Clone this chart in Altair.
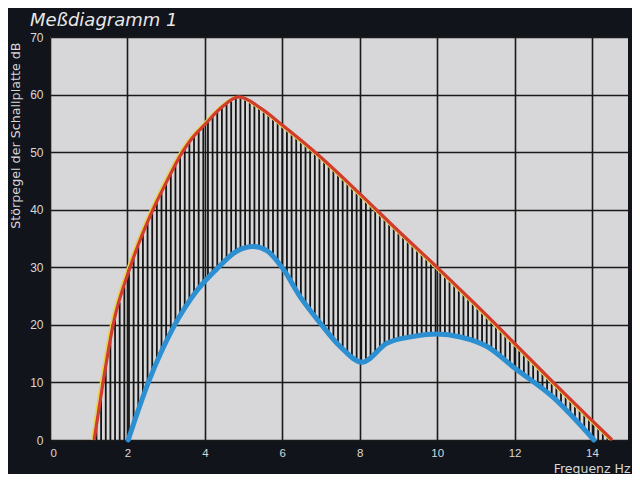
import altair as alt
import numpy as np
import pandas as pd

# Upper (red) curve
red_x = [1.14, 1.37, 1.63, 2.07, 2.66, 3.03, 3.42, 3.68, 4.0, 4.42, 4.88, 5.45, 6.0, 6.93, 8.0, 9.0, 10.0, 11.0, 12.0, 13.0, 14.0, 14.52]
red_y = [0, 10, 20, 30, 40, 45.1, 50, 52.5, 54.8, 57.7, 59.6, 57.6, 54.7, 49.5, 42.8, 36.3, 30.0, 23.5, 16.8, 10.0, 3.4, 0]

# Lower (blue) curve
blue_x = [2.02, 2.54, 3.19, 3.8, 4.35, 4.8, 5.25, 5.6, 6.0, 6.5, 6.98, 7.5, 8.06, 8.7, 9.4, 10.0, 10.6, 11.3, 12.0, 13.0, 14.05]
blue_y = [0, 10, 19.6, 26.0, 30.0, 32.7, 33.6, 32.9, 29.9, 24.5, 20.3, 16.2, 13.5, 16.8, 18.0, 18.4, 17.9, 16.2, 12.5, 7.4, 0]

x_ticks = [0, 2, 4, 6, 8, 10, 12, 14]
y_ticks = [0, 10, 20, 30, 40, 50, 60, 70]

red_df = pd.DataFrame({"f": red_x, "db": red_y})
blue_df = pd.DataFrame({"f": blue_x, "db": blue_y})

# hatching between the two curves
hx = np.arange(1.2, 14.48, 0.12)
hatch_df = pd.DataFrame({
    "f": hx,
    "top": np.interp(hx, red_x, red_y),
    "bot": np.interp(hx, blue_x, blue_y, left=0, right=0),
})

FONT = "Liberation Sans"
WFONT = "DejaVu Sans"
LBL = "#d8d8d8"

xs = alt.Scale(domain=[0, 14.93], nice=False, zero=False)
ys = alt.Scale(domain=[0, 70], nice=False)

xaxis = alt.Axis(values=x_ticks, grid=True, gridColor="#1a1a1a", gridWidth=1.6, gridOpacity=1,
                 domain=False, ticks=False, labelColor=LBL, labelFont=FONT, labelFontSize=11.5,
                 labelPadding=7, title="Frequenz  Hz", titleColor=LBL, titleFont=WFONT,
                 titleFontSize=12.5, titleFontWeight="normal",
                 titleAlign="right", titleX=580, titleY=32, titleBaseline="alphabetic")
yaxis = alt.Axis(values=y_ticks, grid=True, gridColor="#1a1a1a", gridWidth=1.6, gridOpacity=1,
                 domain=False, ticks=False, labelColor=LBL, labelFont=FONT, labelFontSize=12,
                 labelPadding=7, title="Störpegel der Schallplatte  dB", titleColor=LBL,
                 titleFont=WFONT, titleFontSize=12.7, titleFontWeight="normal", titleAngle=-90,
                 titleAlign="right", titleX=-35, titleY=5, titleBaseline="middle")

hatch = alt.Chart(hatch_df).mark_rule(color="#141414", strokeWidth=1.8).encode(
    x=alt.X("f:Q", scale=xs, axis=xaxis),
    y=alt.Y("top:Q", scale=ys, axis=yaxis),
    y2="bot:Q",
)

yellow = alt.Chart(red_df).mark_line(color="#e8d24a", strokeWidth=1.6, interpolate="monotone",
                                      xOffset=-2.5).encode(
    x=alt.X("f:Q", scale=xs), y=alt.Y("db:Q", scale=ys))
red = alt.Chart(red_df).mark_line(color="#d23c2c", strokeWidth=3.2, interpolate="monotone").encode(
    x=alt.X("f:Q", scale=xs), y=alt.Y("db:Q", scale=ys))
blue = alt.Chart(blue_df).mark_line(color="#2b8fd2", strokeWidth=5, interpolate="monotone",
                                    strokeCap="round").encode(
    x=alt.X("f:Q", scale=xs), y=alt.Y("db:Q", scale=ys))

chart = alt.layer(hatch, yellow, red, blue).properties(
    width=578, height=403,
    title=alt.TitleParams("Meßdiagramm 1", color="#e8e8e8", font=WFONT, fontSize=18,
                          fontStyle="italic", fontWeight="normal", anchor="start",
                          frame="group", dx=-20, offset=1),
    background="#12141c",
    padding={"left": 42, "top": 29, "right": 4, "bottom": 34},
    autosize=alt.AutoSizeParams(type="none"),
).configure_view(fill="#d7d7d9", stroke=None)

chart.save("out.html", embed_options={"renderer": "svg", "actions": False})
